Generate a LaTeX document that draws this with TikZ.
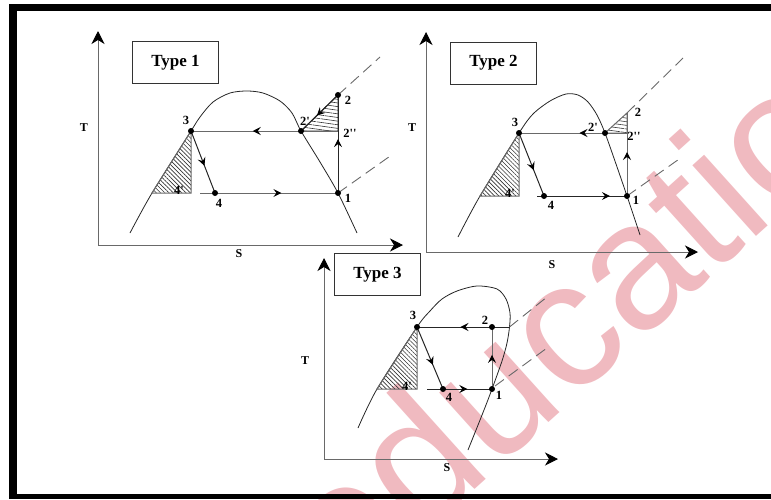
\documentclass[tikz,border=0pt]{standalone}
\usepackage{fontspec}
\setmainfont{Liberation Serif}
\newfontfamily\wmfont{Liberation Sans}
\usetikzlibrary{arrows.meta,patterns.meta,decorations.markings}

\definecolor{wmpink}{RGB}{240,186,192}
\definecolor{lgray}{RGB}{105,105,105}

\tikzset{
    axisline/.style={draw=lgray,line width=1pt,-{Stealth[length=13pt,width=13pt,inset=4pt,color=black]}},
    dome/.style={draw=black!85,line width=0.8pt},
    cyc/.style={draw=lgray,line width=1pt},
    cycdark/.style={draw=black!85,line width=1pt},
    dashln/.style={draw=lgray,line width=0.9pt,dash pattern=on 11pt off 6pt},
    midarr/.style={postaction={decorate},decoration={markings,
        mark=at position #1 with {\arrow{Stealth[length=8pt,width=8pt,inset=3pt,color=black]}}}},
    dot/.style={circle,fill=black,inner sep=0pt,minimum size=6pt},
    num/.style={font=\bfseries\fontsize{12.5}{14}\selectfont,inner sep=0pt},
    axlbl/.style={font=\bfseries\fontsize{12}{14}\selectfont,inner sep=0pt},
    typebox/.style={draw=black!80,line width=0.8pt,font=\bfseries\fontsize{17}{20}\selectfont,
        minimum width=86pt,minimum height=42pt,inner sep=0pt},
    hatchL/.style={pattern={Lines[angle=-45,distance=3pt,line width=0.6pt]},pattern color=black!80},
    hatchR/.style={pattern={Lines[angle=-8,distance=3.6pt,line width=0.6pt]},pattern color=black!80},
    wmark/.style={font=\wmfont\fontsize{180}{180}\selectfont,text=wmpink,inner sep=0pt}
}

\begin{document}
\begin{tikzpicture}[x=1pt,y=-1pt]
    \useasboundingbox (0,0) rectangle (771,499);
    \node[wmark,rotate=42,anchor=base west] (wm) at (346,606) {education};
    \fill (9,4) rectangle (16.5,499);
    \fill (9,4) rectangle (771,11);
    \fill (9,493.5) rectangle (771,499);

    % Type 1
    \coordinate (Ao) at (98,245);
    \coordinate (AT) at (98,31);
    \coordinate (AS) at (403,245);
    \coordinate (A3) at (191,131);
    \coordinate (A2p) at (301,131);
    \coordinate (A2) at (338,95);
    \coordinate (A2pp) at (338,131);
    \coordinate (A1) at (338,193);
    \coordinate (A4) at (215,193);
    \coordinate (A4p) at (191,193);
    \coordinate (A4s) at (200,193);
    \coordinate (Ab) at (152,193);
    \coordinate (Ad2) at (380,57);
    \coordinate (Ad1) at (393,154);
    \draw[axisline] (Ao) -- (AT);
    \draw[axisline] (Ao) -- (AS);
    \node[axlbl] (AlT) at (84,128) {T};
    \node[axlbl] (AlS) at (239,254) {S};
    \node[typebox] (type1) at (175.5,62.5) {Type 1};
    \draw[dome] plot[smooth,tension=0.5] coordinates {(130,233) (Ab) (A3) (200,117) (213,102) (230,93) (247,91) (263,93) (280,101) (292,113) (A2p) (320,162) (A1) (357,233)};
    \draw[cyc,hatchL] (A3) -- (Ab) -- (A4p) -- cycle;
    \draw[cycdark,hatchR] (A2) -- (A2pp) -- (A2p) -- cycle;
    \draw[cyc,midarr=0.58] (A2pp) -- (A3);
    \draw[cycdark,midarr=0.57] (A2) -- (A2p);
    \draw[cycdark,midarr=0.55] (A1) -- (A2);
    \draw[cycdark,midarr=0.56] (A3) -- (A4);
    \draw[cyc,midarr=0.59] (A4s) -- (A1);
    \draw[dashln] (A2) -- (Ad2);
    \draw[dashln] (A1) -- (Ad1);
    \node[dot] (Ad3) at (A3) {};
    \node[dot] (Ad2p) at (A2p) {};
    \node[dot] (Adtwo) at (A2) {};
    \node[dot] (Adone) at (A1) {};
    \node[dot] (Adfour) at (A4) {};
    \node[num] (Al3) at (186,120) {3};
    \node[num] (Al2p) at (305,121) {2\textquotesingle};
    \node[num] (Al2) at (348,100) {2};
    \node[num] (Al2pp) at (350,133) {2\textquotesingle\textquotesingle};
    \node[num] (Al1) at (348,198) {1};
    \node[num] (Al4) at (219,203) {4};
    \node[num] (Al4p) at (179,190) {4\textquotesingle};

    % Type 2
    \coordinate (Bo) at (426,252);
    \coordinate (BT) at (426,32);
    \coordinate (BS) at (698,252);
    \coordinate (B3) at (519,133);
    \coordinate (B2p) at (605,133);
    \coordinate (B2) at (627,113);
    \coordinate (B2pp) at (627,133);
    \coordinate (B1) at (627,196);
    \coordinate (B4) at (544,196);
    \coordinate (B4p) at (519,196);
    \coordinate (B4s) at (537,196);
    \coordinate (Bb) at (480,196);
    \coordinate (Bd2) at (683,58);
    \coordinate (Bd1) at (682,157);
    \draw[axisline] (Bo) -- (BT);
    \draw[axisline] (Bo) -- (BS);
    \node[axlbl] (BlT) at (412,128) {T};
    \node[axlbl] (BlS) at (552,265) {S};
    \node[typebox] (type2) at (493.5,63) {Type 2};
    \draw[dome] plot[smooth,tension=0.5] coordinates {(458,237) (Bb) (B3) (533,114) (550,101) (566,94) (578,95) (588,102) (597,115) (B2p) (616,164) (B1) (640,235)};
    \draw[cyc,hatchL] (B3) -- (Bb) -- (B4p) -- cycle;
    \draw[cyc,hatchR] (B2) -- (B2pp) -- (B2p) -- cycle;
    \draw[cyc,midarr=0.44] (B2pp) -- (B3);
    \draw[cyc,midarr=0.53] (B1) -- (B2);
    \draw[cycdark,midarr=0.59] (B3) -- (B4);
    \draw[cycdark,midarr=0.81] (B4s) -- (B1);
    \draw[dashln] (B2) -- (Bd2);
    \draw[dashln] (B1) -- (Bd1);
    \node[dot] (Bd3) at (B3) {};
    \node[dot] (Bd2p) at (B2p) {};
    \node[dot] (Bdone) at (B1) {};
    \node[dot] (Bdfour) at (B4) {};
    \node[num] (Bl3) at (515,122) {3};
    \node[num] (Bl2p) at (593,127) {2\textquotesingle};
    \node[num] (Bl2) at (638,112) {2};
    \node[num] (Bl2pp) at (634,136) {2\textquotesingle\textquotesingle};
    \node[num] (Bl1) at (636,200) {1};
    \node[num] (Bl4) at (551,205) {4};
    \node[num] (Bl4p) at (510,193) {4\textquotesingle};

    % Type 3
    \coordinate (Co) at (324,459);
    \coordinate (CT) at (324,258);
    \coordinate (CS) at (558,459);
    \coordinate (C3) at (417,327);
    \coordinate (C2) at (492,327);
    \coordinate (Cx) at (509.5,327);
    \coordinate (C1) at (492,389);
    \coordinate (C4) at (443,389);
    \coordinate (C4p) at (417,389);
    \coordinate (C4s) at (427,389);
    \coordinate (Cb) at (377,389);
    \coordinate (Cd1s) at (495,386);
    \coordinate (Cd2) at (547,297);
    \coordinate (Cd1) at (547,348);
    \draw[axisline] (Co) -- (CT);
    \draw[axisline] (Co) -- (CS);
    \node[axlbl] (ClT) at (305,361) {T};
    \node[axlbl] (ClS) at (447,468) {S};
    \node[typebox] (type3) at (377.5,274.5) {Type 3};
    \draw[dome] plot[smooth,tension=0.5] coordinates {(358,428) (Cb) (C3) (430,311) (442,299) (457,291) (477,286) (497,289) (506,299) (510,313) (Cx) (507,343) (502,361) (C1) (484,410) (468,450)};
    \draw[cyc,hatchL] (C3) -- (Cb) -- (C4p) -- cycle;
    \draw[cycdark,midarr=0.53] (Cx) -- (C3);
    \draw[cyc,midarr=0.55] (C1) -- (C2);
    \draw[cycdark,midarr=0.61] (C3) -- (C4);
    \draw[cycdark,midarr=0.62] (C4s) -- (C1);
    \draw[dashln] (Cx) -- (Cd2);
    \draw[dashln] (Cd1s) -- (Cd1);
    \node[dot] (Cd3) at (C3) {};
    \node[dot] (Cdtwo) at (C2) {};
    \node[dot] (Cdone) at (C1) {};
    \node[dot] (Cdfour) at (C4) {};
    \node[num] (Cl3) at (413,315) {3};
    \node[num] (Cl2) at (485,320) {2};
    \node[num] (Cl1) at (499,395) {1};
    \node[num] (Cl4) at (449,397) {4};
    \node[num] (Cl4p) at (407,386) {4\textquotesingle};
\end{tikzpicture}
\end{document}
